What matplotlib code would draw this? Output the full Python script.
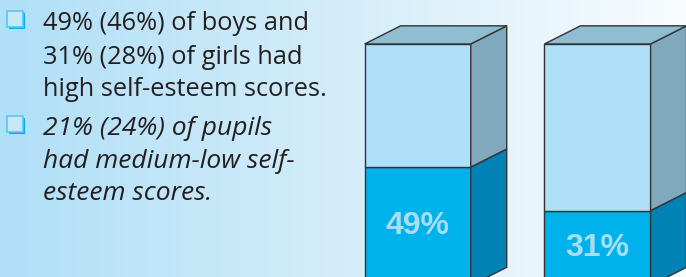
import matplotlib.pyplot as plt
import numpy as np
from matplotlib.patches import Polygon, Rectangle
from matplotlib.colors import LinearSegmentedColormap

# data
groups = ['Boys', 'Girls']
high_pct = [49, 31]
total_pct = 100
bullet_lines = [
    ['49% (46%) of boys and', '31% (28%) of girls had', 'high self-esteem scores.'],
    ['21% (24%) of pupils', 'had medium-low self-', 'esteem scores.'],
]
bullet_styles = ['normal', 'italic']
bullet_sizes = [18.3, 19]

fig = plt.figure(figsize=(6.86, 2.77), dpi=100)

# background gradient (pixel coordinates)
bg = fig.add_axes([0, 0, 1, 1], zorder=0)
bg.set_xlim(0, 686)
bg.set_ylim(277, 0)
bg.axis('off')
grad = np.linspace(0, 1, 256).reshape(1, -1)
cmap = LinearSegmentedColormap.from_list('bg', ['#b0dff7', '#d4edfa', '#f8fcfe'])
bg.imshow(grad, cmap=cmap, aspect='auto', extent=[0, 686, 277, 0])

# bullet text
baselines = [[30, 63.5, 96.5], [135, 167.5, 200]]
for lines, style, size, ys in zip(bullet_lines, bullet_styles, bullet_sizes, baselines):
    top = ys[0] - 19
    bg.add_patch(Rectangle((9, top + 2), 16, 16, facecolor='#00aeef', edgecolor='none'))
    bg.add_patch(Rectangle((7, top), 16, 16, facecolor='#c6e8f9', edgecolor='#5cc6f0', lw=1.2))
    for line, y in zip(lines, ys):
        bg.text(43, y, line, fontsize=size, fontstyle=style, family='Open Sans',
                color='#231f20', va='baseline', ha='left')

# 3D stacked bars
ax = fig.add_axes([0, 0, 1, 1], zorder=1)
ax.patch.set_alpha(0)
ax.set_xlim(-2.323, 1.492)
ax.set_ylim(3.5, 118.2)
ax.axis('off')

w = 0.59
dx, dy = 0.2, 7.5
edge = dict(edgecolor='#333333', lw=1.0)
for i, v in enumerate(high_pct):
    x0, x1 = i - w / 2, i + w / 2
    ax.add_patch(Rectangle((x0, 0), w, v, facecolor='#00b2ec', **edge))
    ax.add_patch(Rectangle((x0, v), w, total_pct - v, facecolor='#aee0f9', **edge))
    ax.add_patch(Polygon([(x1, 0), (x1 + dx, dy), (x1 + dx, v + dy), (x1, v)],
                         facecolor='#0082b4', **edge))
    ax.add_patch(Polygon([(x1, v), (x1 + dx, v + dy), (x1 + dx, total_pct + dy), (x1, total_pct)],
                         facecolor='#80a9bd', **edge))
    ax.add_patch(Polygon([(x0, total_pct), (x1, total_pct), (x1 + dx, total_pct + dy),
                          (x0 + dx, total_pct + dy)], facecolor='#8fbdd1', **edge))
    ax.text(i, v / 2, f'{v}%', ha='center', va='center', fontsize=23, fontweight='bold',
            family='Liberation Sans', color='#a8ddf6')

plt.savefig('out.png', dpi=100)
